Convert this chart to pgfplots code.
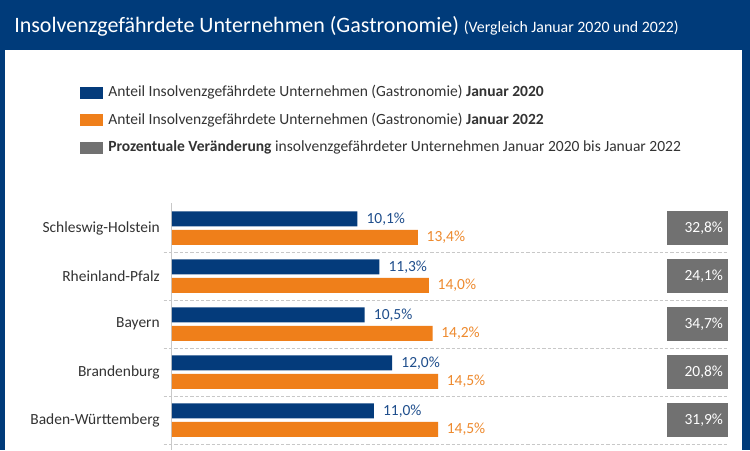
\documentclass[border=0pt]{standalone}
\usepackage{pgfplots}
\pgfplotsset{compat=1.18}
\usepackage{pgfplotstable}
\usepackage{fontspec}
\setmainfont{Carlito}

\definecolor{navy}{HTML}{003B7A}
\definecolor{barblue}{HTML}{043B7B}
\definecolor{barorange}{HTML}{EF7F1A}
\definecolor{boxgray}{HTML}{717171}
\definecolor{lblblue}{HTML}{1F4E8C}
\definecolor{lblorange}{HTML}{EE8A2E}
\definecolor{txt}{HTML}{333333}
\definecolor{sepgray}{HTML}{C8C8C8}

% i = row, pos = x position of the grey box
\pgfplotstableread{
i  jan2020 jan2022 pos   chg
0  10.1    13.4    28.64 32.8
1  11.3    14.0    28.64 24.1
2  10.5    14.2    28.64 34.7
3  12.0    14.5    28.64 20.8
4  11.0    14.5    28.64 31.9
}\data

\newcommand{\pct}{\pgfmathprintnumber[fixed,fixed zerofill,precision=1,use comma,assume math mode=true]{\pgfplotspointmeta}\%}

\begin{document}
\begin{tikzpicture}[x=0.75pt,y=0.75pt]
\path[use as bounding box] (0,0) rectangle (750,450);
\clip (0,0) rectangle (750,450);
\fill[navy] (0,0) rectangle (750,450);
\fill[white] (5,0) rectangle (742,400);
\node[anchor=base west, text=white, inner sep=0pt, font=\fontsize{16.5}{18}\selectfont] at (14,417.5)
  {Insolvenzgefährdete Unternehmen (Gastronomie) {\fontsize{11.9}{13}\selectfont (Vergleich Januar 2020 und 2022)}};

\begin{axis}[
  at={(129pt,185.25pt)}, anchor=north west,
  scale only axis, width=426.6pt, height=185.25pt,
  xmin=0, xmax=31, ymin=-0.521, ymax=4.625,
  y dir=reverse, clip=false,
  axis x line=none, axis y line=left,
  y axis line style={-, draw=sepgray, line width=0.75pt},
  ytick={0,...,4},
  yticklabels={Schleswig-Holstein, Rheinland-Pfalz, Bayern, Brandenburg, Baden-Württemberg},
  major tick length=0pt,
  yticklabel style={font=\fontsize{11.6}{13}\selectfont, text=txt, inner sep=0pt, anchor=east, xshift=-9pt},
  legend style={at={(0,1)}, anchor=north west, xshift=-69pt, yshift=88pt,
    draw=none, fill=none, inner sep=0pt, row sep=10.1pt, column sep=3.75pt,
    font=\fontsize{11.65}{12}\selectfont, text=txt,
    nodes={inner sep=0pt, text height=8pt, text depth=2.5pt}},
  legend cell align=left,
]
\addplot[xbar, bar width=11.25pt, bar shift=6.94pt, fill=barblue, draw=none,
  nodes near coords=\pct,
  nodes near coords style={anchor=west, text=lblblue, inner sep=0pt, xshift=6.75pt, yshift=6.94pt, font=\fontsize{11.6}{13}\selectfont},
  legend image code/.code={\fill[barblue] (0pt,-4.5pt) rectangle (17.25pt,4.5pt);}]
  table[x=jan2020, y=i] {\data};
\addlegendentry{Anteil Insolvenzgefährdete Unternehmen (Gastronomie) \textbf{Januar 2020}}
\addplot[xbar, bar width=11.25pt, bar shift=-6.94pt, fill=barorange, draw=none,
  nodes near coords=\pct,
  nodes near coords style={anchor=west, text=lblorange, inner sep=0pt, xshift=6.4pt, yshift=-6.94pt, font=\fontsize{11.6}{13}\selectfont},
  legend image code/.code={\fill[barorange] (0pt,-4.5pt) rectangle (17.25pt,4.5pt);}]
  table[x=jan2022, y=i] {\data};
\addlegendentry{Anteil Insolvenzgefährdete Unternehmen (Gastronomie) \textbf{Januar 2022}}
\addplot[draw=none, mark=none, point meta=explicit,
  nodes near coords=\pct,
  nodes near coords align={anchor=center},
  nodes near coords style={anchor=center, fill=boxgray, text=white, minimum height=25.5pt,
    text width=38.25pt, inner xsep=3.75pt, inner ysep=0pt, align=right, font=\fontsize{11.6}{13}\selectfont},
  legend image code/.code={\fill[boxgray] (0pt,-4.5pt) rectangle (17.25pt,4.5pt);}]
  table[x=pos, y=i, meta=chg] {\data};
\addlegendentry{\textbf{Prozentuale Veränderung} insolvenzgefährdeter Unternehmen Januar 2020 bis Januar 2022}
\pgfplotsinvokeforeach{0,...,4}{
  \draw[sepgray, line width=0.75pt, dash pattern=on 2.5pt off 1.5pt]
    (axis cs:-0.45,#1+0.5) -- (axis cs:30.3,#1+0.5);
}
\end{axis}
\end{tikzpicture}
\end{document}
